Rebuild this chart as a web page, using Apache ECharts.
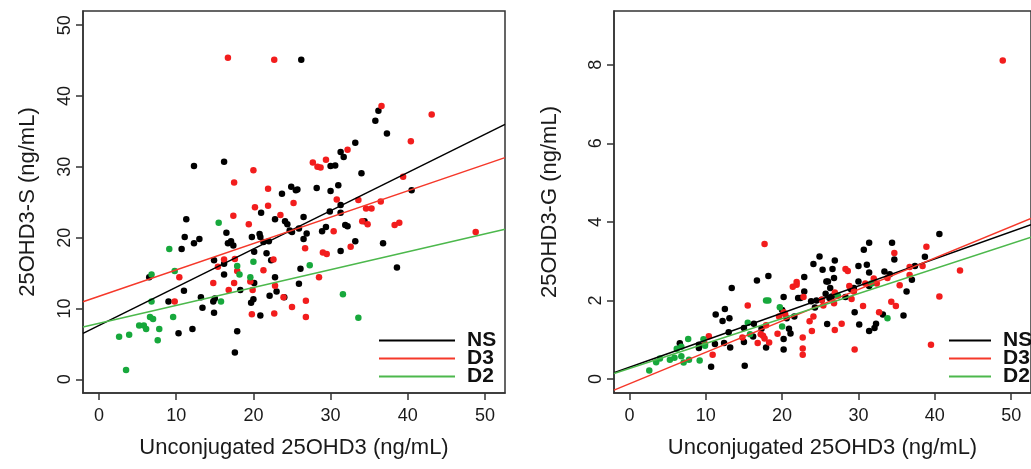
<!DOCTYPE html>
<html><head><meta charset="utf-8">
<script src="https://cdn.jsdelivr.net/npm/echarts@6/dist/echarts.min.js"></script>
<style>html,body{margin:0;padding:0;background:#fff}#c{width:1031px;height:469px}</style>
</head><body><div id="c"></div>
<script>
// ---- tick labels ----
const xTicks = [0, 10, 20, 30, 40, 50];
const yTicksS = [0, 10, 20, 30, 40, 50];
const yTicksG = [0, 2, 4, 6, 8];
const groups = ['NS', 'D3', 'D2'];

// ---- left panel: 25OHD3-S vs unconjugated 25OHD3 ----
const sNS = [[12.3,30.1],[16.2,30.7],[24.9,27.2],[23.7,26.2],[25.5,26.7],[26.2,45.1],[36.2,37.9],[35.8,36.5],[37.3,34.7],[33.2,33.4],[31.3,32.1],[31.7,31.4],[30.0,30.1],[30.6,30.2],[34.0,29.1],[40.5,26.7],[31.0,27.4],[28.2,27.0],[25.7,26.8],[30.0,26.6],[21.0,23.5],[11.3,22.6],[22.8,22.6],[24.1,22.3],[24.4,21.9],[16.5,20.7],[11.1,20.1],[13.0,19.8],[12.3,19.2],[19.8,20.1],[20.8,20.5],[20.9,20.1],[21.3,19.4],[22.0,19.5],[17.1,19.5],[16.7,19.2],[17.4,18.9],[10.7,18.4],[20.1,18.0],[21.7,17.8],[14.9,16.8],[22.3,16.8],[16.2,16.3],[16.2,14.8],[6.5,14.4],[22.8,14.4],[20.1,13.6],[18.3,12.6],[11.0,12.5],[23.0,12.4],[22.1,11.8],[13.2,11.6],[15.0,11.4],[14.8,11.0],[20.0,11.3],[19.7,10.8],[9.0,11.0],[13.4,10.1],[14.9,9.4],[20.9,9.0],[10.3,6.5],[12.1,7.1],[17.9,6.8],[17.6,3.8],[31.3,24.6],[29.9,23.7],[31.3,23.5],[26.5,22.9],[34.4,22.3],[25.0,20.8],[24.7,21.0],[25.9,21.3],[26.9,20.6],[28.9,20.9],[29.4,21.5],[31.9,21.8],[32.2,21.6],[26.5,19.8],[33.2,19.5],[36.8,19.2],[31.3,18.1],[26.1,15.6],[38.6,15.8],[25.9,13.5],[24.0,11.6]];
const sD3 = [[16.7,45.4],[22.7,45.1],[20.0,29.5],[17.5,27.8],[21.9,26.9],[36.6,38.6],[43.1,37.4],[40.4,33.6],[32.2,32.4],[29.4,31.0],[27.7,30.6],[28.3,30.0],[28.7,29.9],[39.4,28.6],[30.8,25.4],[33.6,25.3],[25.2,24.9],[20.2,24.3],[21.9,24.5],[17.4,23.1],[23.5,23.2],[19.4,21.9],[16.2,16.9],[17.6,17.0],[22.6,16.9],[15.4,15.9],[17.9,15.3],[21.3,15.4],[10.4,14.4],[19.6,13.8],[14.8,13.6],[17.5,13.6],[16.8,12.6],[19.9,12.6],[22.8,13.2],[23.9,11.6],[9.8,11.0],[25.0,10.2],[19.8,9.2],[22.7,9.3],[36.5,25.1],[34.6,24.1],[35.3,24.1],[34.1,22.3],[34.8,21.9],[38.3,21.8],[38.9,22.1],[30.4,20.9],[26.7,18.5],[32.6,18.7],[29.0,17.9],[29.5,17.7],[48.8,20.8],[28.5,14.4],[26.8,11.1],[26.8,8.8]];
const sD2 = [[15.5,22.1],[9.1,18.4],[20.0,16.6],[17.9,16.0],[18.2,14.8],[6.8,14.8],[9.8,15.3],[19.6,14.4],[6.8,11.0],[15.8,11.0],[6.6,8.8],[7.0,8.5],[9.6,8.8],[5.2,7.6],[5.8,7.6],[6.1,7.1],[7.8,7.1],[2.6,6.0],[3.9,6.3],[7.6,5.5],[3.5,1.3],[27.3,16.1],[31.6,12.0],[33.6,8.7]];
// regression lines [intercept, slope]
const fitS_NS = [7.62, 0.5395];
const fitS_D3 = [11.73, 0.372];
const fitS_D2 = [7.91, 0.2524];

// ---- right panel: 25OHD3-G vs unconjugated 25OHD3 ----
const gNS = [[40.6,3.69],[24.1,2.93],[25.3,2.78],[16.7,2.51],[18.2,2.62],[22.9,2.60],[13.4,2.32],[22.9,2.23],[22.1,2.06],[22.4,2.06],[20.2,2.09],[23.8,1.98],[24.5,2.00],[25.2,2.02],[20.0,1.76],[12.5,1.78],[11.3,1.64],[13.1,1.55],[12.2,1.48],[24.3,1.82],[20.6,1.55],[21.6,1.59],[20.9,1.28],[21.1,1.16],[20.2,1.02],[20.2,0.75],[15.0,1.30],[16.3,1.41],[15.0,0.94],[16.2,1.08],[17.3,1.28],[17.9,0.80],[15.1,0.34],[13.2,0.80],[12.4,0.92],[11.2,0.89],[10.7,0.31],[13.0,1.19],[9.1,0.87],[6.6,0.91],[9.1,0.79],[31.4,3.47],[30.7,3.29],[34.4,3.47],[34.7,3.04],[38.7,3.11],[24.9,3.12],[26.6,2.80],[26.9,3.02],[30.0,2.88],[31.1,2.91],[31.4,2.71],[33.4,2.74],[34.1,2.67],[37.4,2.88],[25.8,2.48],[26.0,2.48],[26.8,2.57],[30.0,2.48],[31.4,2.37],[29.4,2.32],[29.0,2.29],[26.3,2.32],[36.3,2.23],[25.7,2.17],[26.5,2.10],[26.2,2.06],[28.3,2.09],[29.5,1.70],[33.2,1.64],[35.9,1.62],[25.9,1.40],[30.1,1.39],[32.3,1.41],[32.1,1.30],[31.4,1.22],[37.0,2.53]];
const gD3 = [[48.9,8.11],[17.7,3.44],[21.9,2.47],[21.4,2.35],[21.9,2.40],[22.8,2.09],[15.5,1.87],[20.2,1.70],[20.4,1.65],[25.4,1.87],[19.6,1.59],[24.1,1.59],[23.6,1.47],[23.9,1.22],[22.7,1.06],[22.7,0.78],[22.7,0.62],[19.4,1.15],[14.8,1.06],[16.8,0.92],[17.2,1.14],[17.5,1.10],[17.7,1.03],[17.9,1.37],[18.3,0.93],[10.9,0.62],[10.4,1.09],[9.9,0.89],[38.9,3.37],[34.7,3.21],[28.3,2.80],[28.6,2.75],[36.7,2.85],[38.4,2.88],[32.0,2.56],[33.8,2.57],[36.7,2.65],[30.9,2.43],[32.4,2.43],[28.8,2.37],[35.4,2.39],[29.4,2.23],[26.9,2.20],[29.1,2.04],[25.2,2.02],[26.8,1.93],[40.6,2.10],[34.3,1.97],[34.9,1.86],[30.6,1.86],[32.7,1.70],[27.8,1.41],[26.9,1.25],[29.5,0.75],[39.5,0.87],[43.3,2.76]];
const gD2 = [[17.9,2.00],[18.2,2.00],[19.7,1.83],[20.0,1.34],[15.5,1.43],[15.8,1.14],[9.7,1.01],[9.9,0.85],[9.2,0.47],[27.3,2.12],[31.7,2.43],[33.8,1.55],[2.6,0.22],[3.5,0.43],[4.0,0.52],[5.3,0.49],[5.9,0.54],[6.2,0.77],[6.8,0.82],[7.7,1.02],[6.8,0.58],[7.1,0.42],[7.8,0.49]];
const fitG_NS = [0.30, 0.069];
const fitG_D3 = [-0.12, 0.080];
const fitG_D2 = [0.27, 0.0635];

// ---- styling / layout ----
const FONT = 'Liberation Sans, Arial, sans-serif';
const colPt = {NS:'#000000', D3:'#f21d1d', D2:'#17a83c'};
const colLn = {NS:'#000000', D3:'#f5382a', D2:'#4cb84c'};
const X_MIN = -2.08, X_MAX = 52.6;
const XR_MIN = -2.02, XR_MAX = 52.6;
const YS_MIN = -1.93, YS_MAX = 52.0;
const YG_MIN = -0.356, YG_MAX = 9.37;

function fitLine(fit, x0, x1){ return [[x0, fit[0]+fit[1]*x0],[x1, fit[0]+fit[1]*x1]]; }

const axisLineStyle = {color:'#333', width:1.5};
function xAx(grid, min, max){
  return {gridIndex:grid, type:'value', min:min, max:max,
    axisLine:{show:true, onZero:false, lineStyle:axisLineStyle},
    axisTick:{show:true, length:7, customValues:xTicks, lineStyle:axisLineStyle},
    axisLabel:{customValues:xTicks, fontSize:18, margin:14, color:'#1a1a1a', fontFamily:FONT},
    splitLine:{show:false},
    name:'Unconjugated 25OHD3 (ng/mL)', nameLocation:'middle', nameGap:44,
    nameTextStyle:{fontSize:22, color:'#1a1a1a', fontFamily:FONT}};
}
function yAx(grid, min, max, ticks, name, gap){
  return {gridIndex:grid, type:'value', min:min, max:max,
    axisLine:{show:true, onZero:false, lineStyle:axisLineStyle},
    axisTick:{show:true, length:7, customValues:ticks, lineStyle:axisLineStyle},
    axisLabel:{customValues:ticks, fontSize:18, margin:9, rotate:90, color:'#1a1a1a', fontFamily:FONT},
    splitLine:{show:false},
    name:name, nameLocation:'middle', nameGap:gap, nameRotate:90,
    nameTextStyle:{fontSize:22, color:'#1a1a1a', fontFamily:FONT}};
}
function pts(name, data, xi){
  return {name:name, type:'scatter', xAxisIndex:xi, yAxisIndex:xi, data:data, symbolSize:6.5,
    itemStyle:{color:colPt[name], opacity:1}, silent:true, z:2};
}
function ln(name, fit, xi, x0, x1){
  return {name:name, type:'line', xAxisIndex:xi, yAxisIndex:xi, data:fitLine(fit, x0, x1),
    symbol:'none', lineStyle:{color:colLn[name], width:1.5}, itemStyle:{color:colLn[name]},
    silent:true, z:3, animation:false};
}
function legend(left, itemWidth){
  return {data:groups.map(g=>({name:g, icon:'rect', itemStyle:{color:colLn[g]}})),
    orient:'vertical', left:left, top:330, itemWidth:itemWidth, itemHeight:2, itemGap:-3,
    selectedMode:false, padding:0,
    textStyle:{fontSize:21, fontWeight:'bold', color:'#111', fontFamily:FONT, lineHeight:18, padding:[0,0,0,7]}};
}

const option = {
  animation:false,
  backgroundColor:'#fff',
  grid:[
    {left:83, right:526, top:11, bottom:76, show:true, borderColor:'#333', borderWidth:1.5, backgroundColor:'transparent'},
    {left:614, right:-9, top:11, bottom:76, show:true, borderColor:'#333', borderWidth:1.5, backgroundColor:'transparent'}
  ],
  xAxis:[xAx(0, X_MIN, X_MAX), xAx(1, XR_MIN, XR_MAX)],
  yAxis:[yAx(0, YS_MIN, YS_MAX, yTicksS, '25OHD3-S (ng/mL)', 44), yAx(1, YG_MIN, YG_MAX, yTicksG, '25OHD3-G (ng/mL)', 53)],
  legend:[legend(379, 76), legend(949, 42)],
  series:[
    pts('NS', sNS, 0), pts('D3', sD3, 0), pts('D2', sD2, 0),
    ln('NS', fitS_NS, 0, X_MIN, X_MAX), ln('D3', fitS_D3, 0, X_MIN, X_MAX), ln('D2', fitS_D2, 0, X_MIN, X_MAX),
    pts('NS', gNS, 1), pts('D3', gD3, 1), pts('D2', gD2, 1),
    ln('NS', fitG_NS, 1, XR_MIN, XR_MAX), ln('D3', fitG_D3, 1, XR_MIN, XR_MAX), ln('D2', fitG_D2, 1, XR_MIN, XR_MAX)
  ]
};
const chart = echarts.init(document.getElementById('c'), null, {renderer:'canvas'});
chart.setOption(option);
</script></body></html>
